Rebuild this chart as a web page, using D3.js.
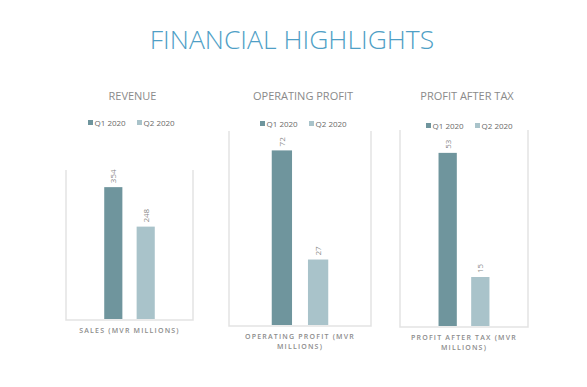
<!DOCTYPE html>
<html>
<head>
<meta charset="utf-8">
<script src="https://cdn.jsdelivr.net/npm/d3@7"></script>
<style>
  body { margin: 0; background: #fff; }
  svg { display: block; }
</style>
</head>
<body>
<script>
// DATA
var series = ["Q1 2020", "Q2 2020"];
var panelTitles = ["REVENUE", "OPERATING PROFIT", "PROFIT AFTER TAX"];
var axisLabels = [
    ["SALES (MVR MILLIONS)"],
    ["OPERATING PROFIT (MVR", "MILLIONS)"],
    ["PROFIT AFTER TAX (MVR", "MILLIONS)"]
];
var revenue = [354, 248];
var operatingProfit = [72, 27];
var profitAfterTax = [53, 15];
var axisMax = [400, 80, 60];

var colors = ["#6f959d", "#a9c3ca"];

// layout of each small chart (box left/right/top/bottom, legend position)
var layout = [
    {x0: 66, x1: 193, top: 170, bottom: 319, legendX: 88, legendY: 123},
    {x0: 229, x1: 371, top: 131, bottom: 325, legendX: 260, legendY: 124},
    {x0: 400, x1: 528, top: 130, bottom: 326, legendX: 426, legendY: 126}
];
var values = [revenue, operatingProfit, profitAfterTax];

var svg = d3.select("body")
    .append("svg")
    .attr("width", 587)
    .attr("height", 387);

svg.append("text")
    .attr("x", 292)
    .attr("y", 49)
    .attr("text-anchor", "middle")
    .attr("font-family", "Open Sans")
    .attr("font-weight", 300)
    .attr("font-size", 26.5)
    .attr("fill", "#4f9fc6")
    .text("FINANCIAL HIGHLIGHTS");

layout.forEach(function(L, i) {
    var g = svg.append("g");
    var cx = (L.x0 + L.x1) / 2;

    // scales
    var xScale = d3.scaleBand()
        .domain(series)
        .range([L.x0, L.x1])
        .paddingInner(0.44)
        .paddingOuter(1.18);

    var yScale = d3.scaleLinear()
        .domain([0, axisMax[i]])
        .range([L.bottom, L.top]);

    // panel title
    g.append("text")
        .attr("x", cx + 3)
        .attr("y", 100)
        .attr("text-anchor", "middle")
        .attr("font-family", "Open Sans")
        .attr("font-size", 11)
        .attr("fill", "#8a8a8a")
        .text(panelTitles[i]);

    // legend
    var lg = g.append("g").attr("transform", "translate(" + L.legendX + "," + L.legendY + ")");
    series.forEach(function(s, j) {
        lg.append("rect")
            .attr("x", j * 49)
            .attr("y", -3)
            .attr("width", 5)
            .attr("height", 5)
            .attr("fill", colors[j]);
        lg.append("text")
            .attr("x", j * 49 + 6.5)
            .attr("y", 3)
            .attr("font-family", "Open Sans")
            .attr("font-size", 8)
            .attr("fill", "#6a6a6a")
            .text(s);
    });

    // frame
    g.append("path")
        .attr("d", "M" + L.x0 + "," + L.top + "V" + (L.bottom + 1) + "H" + L.x1 + "V" + L.top)
        .attr("fill", "none")
        .attr("stroke", "#e3e3e3")
        .attr("stroke-width", 1.5);

    // bars
    var data = series.map(function(s, j) { return {s: s, v: values[i][j], c: colors[j]}; });
    g.selectAll("rect.bar").data(data)
        .enter()
        .append("rect")
        .attr("class", "bar")
        .attr("x", d => xScale(d.s))
        .attr("y", d => yScale(d.v))
        .attr("width", xScale.bandwidth())
        .attr("height", d => yScale(0) - yScale(d.v))
        .attr("fill", d => d.c);

    // value labels, rotated
    g.selectAll("text.val").data(data)
        .enter()
        .append("text")
        .attr("class", "val")
        .attr("transform", d => "translate(" + (xScale(d.s) + xScale.bandwidth() / 2 + 3) + "," + (yScale(d.v) - 4) + ") rotate(-90)")
        .attr("font-family", "Open Sans")
        .attr("font-size", 8)
        .attr("fill", "#8a8a8a")
        .text(d => d.v);

    // category axis title
    axisLabels[i].forEach(function(t, k) {
        g.append("text")
            .attr("x", cx)
            .attr("y", L.bottom + 14 + k * 10)
            .attr("text-anchor", "middle")
            .attr("font-family", "Open Sans")
            .attr("font-weight", 600)
            .attr("font-size", 7)
            .attr("letter-spacing", 1.2)
            .attr("fill", "#8c8c8c")
            .text(t);
    });
});
</script>
</body>
</html>
